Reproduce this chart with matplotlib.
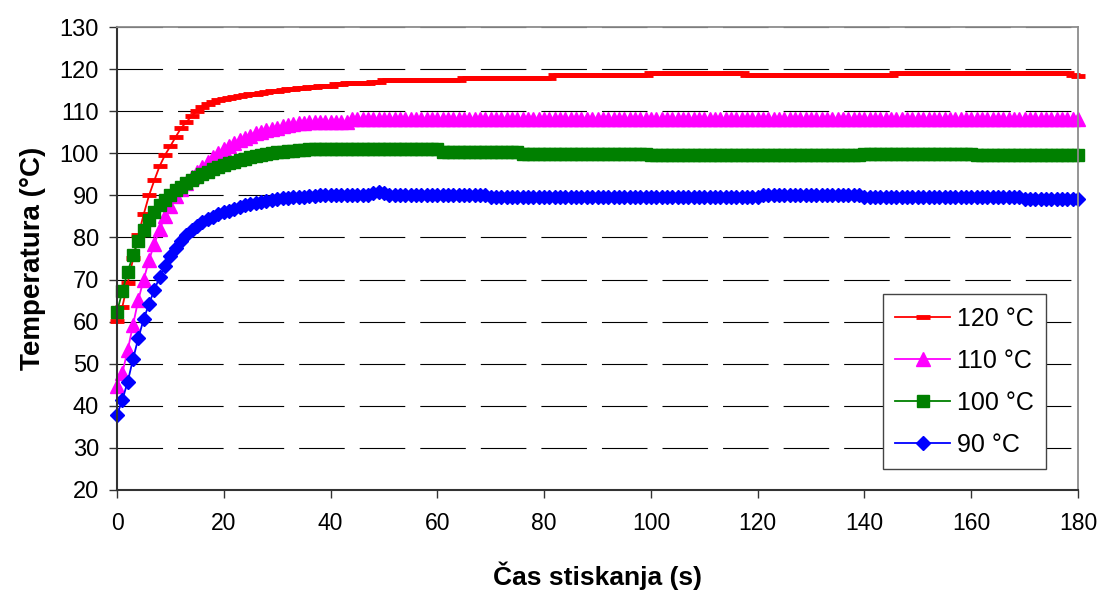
import matplotlib
matplotlib.use("Agg")
import matplotlib.pyplot as plt
import numpy as np

plt.rcParams['font.family'] = ['Liberation Sans', 'DejaVu Sans']

#%% data, one reading per second
cas = np.arange(0, 181)   # time axis (s)
x_ticks = [0, 20, 40, 60, 80, 100, 120, 140, 160, 180]
y_ticks = [20, 30, 40, 50, 60, 70, 80, 90, 100, 110, 120, 130]
labels = ['120 °C', '110 °C', '100 °C', '90 °C']

t120 = [
    60.2, 63.5, 69.2, 75.0, 80.5, 85.5, 90.0, 93.6, 97.0, 99.6,
    101.7, 103.9, 106.0, 107.4, 108.9, 110.0, 111.0, 111.8, 112.3, 112.7,
    113.0, 113.2, 113.4, 113.6, 113.8, 114.0, 114.1, 114.3, 114.5, 114.7,
    114.9, 115.0, 115.2, 115.3, 115.5, 115.6, 115.7, 115.8, 115.9, 116.0,
    116.0, 116.5, 116.5, 116.8, 116.8, 116.8, 116.8, 116.8, 117.0, 117.0,
    117.4, 117.4, 117.4, 117.4, 117.4, 117.4, 117.4, 117.4, 117.4, 117.4,
    117.4, 117.4, 117.4, 117.4, 117.4, 118.0, 118.0, 118.0, 118.0, 118.0,
    118.0, 118.0, 118.0, 118.0, 118.0, 118.0, 118.0, 118.0, 118.0, 118.0,
    118.0, 118.0, 118.5, 118.5, 118.5, 118.5, 118.5, 118.5, 118.5, 118.5,
    118.5, 118.5, 118.5, 118.5, 118.5, 118.5, 118.5, 118.5, 118.5, 118.5,
    119.0, 119.0, 119.0, 119.0, 119.0, 119.0, 119.0, 119.0, 119.0, 119.0,
    119.0, 119.0, 119.0, 119.0, 119.0, 119.0, 119.0, 119.0, 118.5, 118.5,
    118.5, 118.5, 118.5, 118.5, 118.5, 118.5, 118.5, 118.5, 118.5, 118.5,
    118.5, 118.5, 118.5, 118.5, 118.5, 118.5, 118.5, 118.5, 118.5, 118.5,
    118.5, 118.5, 118.5, 118.5, 118.5, 118.5, 119.0, 119.0, 119.0, 119.0,
    119.0, 119.0, 119.0, 119.0, 119.0, 119.0, 119.0, 119.0, 119.0, 119.0,
    119.0, 119.0, 119.0, 119.0, 119.0, 119.0, 119.0, 119.0, 119.0, 119.0,
    119.0, 119.0, 119.0, 119.0, 119.0, 119.0, 119.0, 119.0, 119.0, 118.5,
    118.4]

t110 = [
    44.8, 47.8, 53.2, 59.2, 65.2, 70.0, 74.6, 78.5, 82.0, 85.0,
    87.5, 89.8, 91.5, 93.0, 94.3, 95.5, 96.8, 97.9, 99.0, 100.0,
    101.0, 101.8, 102.5, 103.1, 103.7, 104.2, 104.7, 105.1, 105.5, 105.8,
    106.1, 106.4, 106.7, 106.9, 107.1, 107.3, 107.4, 107.5, 107.5, 107.5,
    107.5, 107.5, 107.5, 107.5, 108.1, 108.1, 108.1, 108.1, 108.1, 108.1,
    108.1, 108.1, 108.1, 108.1, 108.1, 108.1, 108.1, 108.1, 108.1, 108.1,
    108.1, 108.1, 108.1, 108.1, 108.1, 108.1, 108.1, 108.1, 108.1, 108.1,
    108.1, 108.1, 108.1, 108.1, 108.1, 108.1, 108.1, 108.1, 108.1, 108.1,
    108.1, 108.1, 108.1, 108.1, 108.1, 108.1, 108.1, 108.1, 108.1, 108.1,
    108.1, 108.1, 108.1, 108.1, 108.1, 108.1, 108.1, 108.1, 108.1, 108.1,
    108.1, 108.1, 108.1, 108.1, 108.1, 108.1, 108.1, 108.1, 108.1, 108.1,
    108.1, 108.1, 108.1, 108.1, 108.1, 108.1, 108.1, 108.1, 108.1, 108.1,
    108.1, 108.1, 108.1, 108.1, 108.1, 108.1, 108.1, 108.1, 108.1, 108.1,
    108.1, 108.1, 108.1, 108.1, 108.1, 108.1, 108.1, 108.1, 108.1, 108.1,
    108.1, 108.1, 108.1, 108.1, 108.1, 108.1, 108.1, 108.1, 108.1, 108.1,
    108.1, 108.1, 108.1, 108.1, 108.1, 108.1, 108.1, 108.1, 108.1, 108.1,
    108.1, 108.1, 108.1, 108.1, 108.1, 108.1, 108.1, 108.1, 108.1, 108.1,
    108.1, 108.1, 108.1, 108.1, 108.1, 108.1, 108.1, 108.1, 108.1, 108.1,
    108.1]

t100 = [
    62.3, 67.2, 71.8, 75.8, 79.2, 81.8, 84.1, 86.0, 87.6, 88.9,
    90.2, 91.2, 92.1, 92.9, 93.7, 94.4, 95.0, 95.6, 96.2, 96.7,
    97.2, 97.6, 98.0, 98.4, 98.7, 99.0, 99.3, 99.6, 99.8, 100.0,
    100.2, 100.4, 100.5, 100.6, 100.7, 100.8, 100.9, 101.0, 101.0, 101.0,
    101.0, 101.0, 101.0, 101.0, 101.0, 101.0, 101.0, 101.0, 101.0, 101.0,
    101.0, 101.0, 101.0, 101.0, 101.0, 101.0, 101.0, 101.0, 101.0, 101.0,
    101.0, 100.4, 100.4, 100.4, 100.4, 100.4, 100.4, 100.4, 100.4, 100.4,
    100.4, 100.4, 100.4, 100.4, 100.4, 100.4, 99.9, 99.9, 99.9, 99.9,
    99.9, 99.9, 99.9, 99.9, 99.9, 99.9, 99.9, 99.9, 99.9, 99.9,
    99.9, 99.9, 99.9, 99.9, 99.9, 99.9, 99.9, 99.9, 99.9, 99.9,
    99.5, 99.5, 99.5, 99.5, 99.5, 99.5, 99.5, 99.5, 99.5, 99.5,
    99.5, 99.5, 99.5, 99.5, 99.5, 99.5, 99.5, 99.5, 99.5, 99.5,
    99.5, 99.5, 99.5, 99.5, 99.5, 99.5, 99.5, 99.5, 99.5, 99.5,
    99.5, 99.5, 99.5, 99.5, 99.5, 99.5, 99.5, 99.5, 99.5, 99.5,
    99.9, 99.9, 99.9, 99.9, 99.9, 99.9, 99.9, 99.9, 99.9, 99.9,
    99.9, 99.9, 99.9, 99.9, 99.9, 99.9, 99.9, 99.9, 99.9, 99.9,
    99.9, 99.5, 99.5, 99.5, 99.5, 99.5, 99.5, 99.5, 99.5, 99.5,
    99.5, 99.5, 99.5, 99.5, 99.5, 99.5, 99.5, 99.5, 99.5, 99.5,
    99.5]

t90 = [
    37.8, 41.4, 45.7, 51.1, 56.1, 60.6, 64.2, 67.6, 70.6, 73.3,
    75.6, 77.6, 79.2, 80.6, 81.8, 82.8, 83.6, 84.3, 84.9, 85.5,
    86.0, 86.4, 86.8, 87.2, 87.6, 87.9, 88.2, 88.5, 88.7, 88.9,
    89.1, 89.3, 89.4, 89.5, 89.6, 89.7, 89.8, 89.9, 90.0, 90.0,
    90.2, 90.2, 90.2, 90.2, 90.2, 90.2, 90.2, 90.2, 90.6, 90.9,
    90.5, 90.2, 90.2, 90.2, 90.2, 90.2, 90.2, 90.2, 90.2, 90.2,
    90.2, 90.2, 90.2, 90.2, 90.2, 90.2, 90.2, 90.2, 90.2, 90.2,
    89.7, 89.7, 89.7, 89.7, 89.7, 89.7, 89.7, 89.7, 89.7, 89.7,
    89.7, 89.7, 89.7, 89.7, 89.7, 89.7, 89.7, 89.7, 89.7, 89.7,
    89.7, 89.7, 89.7, 89.7, 89.7, 89.7, 89.7, 89.7, 89.7, 89.7,
    89.7, 89.7, 89.7, 89.7, 89.7, 89.7, 89.7, 89.7, 89.7, 89.7,
    89.7, 89.7, 89.7, 89.7, 89.7, 89.7, 89.7, 89.7, 89.7, 89.7,
    89.7, 90.1, 90.1, 90.1, 90.1, 90.1, 90.1, 90.1, 90.1, 90.1,
    90.1, 90.1, 90.1, 90.1, 90.1, 90.1, 90.1, 90.1, 90.1, 90.1,
    89.6, 89.6, 89.6, 89.6, 89.6, 89.6, 89.6, 89.6, 89.6, 89.6,
    89.6, 89.6, 89.6, 89.6, 89.6, 89.6, 89.6, 89.6, 89.6, 89.6,
    89.6, 89.6, 89.6, 89.6, 89.6, 89.6, 89.6, 89.6, 89.6, 89.6,
    89.1, 89.1, 89.1, 89.1, 89.1, 89.1, 89.1, 89.1, 89.1, 89.1,
    89.1]

#%% plot
fig = plt.figure(figsize=(11.05, 5.96), dpi=100)
ax = fig.add_axes([117/1105, 1 - 490/596, 961/1105, 463/596])

ax.plot(cas, t120, color='#FF0000', lw=1.3, marker='_', ms=9.5, mew=3.5,
        clip_on=False, label=labels[0])
ax.plot(cas, t110, color='#FF00FF', lw=1.3, marker='^', ms=10.5,
        clip_on=False, label=labels[1])
ax.plot(cas, t100, color='#008000', lw=1.3, marker='s', ms=8.5,
        clip_on=False, label=labels[2])
ax.plot(cas, t90, color='#0000FF', lw=1.3, marker='D', ms=7,
        clip_on=False, label=labels[3])

ax.set_xlim(0, 180)
ax.set_ylim(20, 130)
ax.set_xticks(x_ticks)
ax.set_yticks(y_ticks)

ax.set_axisbelow(True)
ax.yaxis.grid(True, color='black', lw=0.8, linestyle=(0, (41, 13.5)))

for side in ['left', 'bottom']:
    ax.spines[side].set_color('#333333')
    ax.spines[side].set_linewidth(1.5)
for side in ['top', 'right']:
    ax.spines[side].set_color('#8c8c8c')
    ax.spines[side].set_linewidth(1.3)

ax.tick_params(axis='both', direction='out', length=6, width=1,
               color='#333333')
ax.tick_params(axis='x', pad=10, labelsize=16.5)
ax.tick_params(axis='y', pad=7, labelsize=17)

ax.set_xlabel('Čas stiskanja (s)', fontsize=19, fontweight='bold', labelpad=19)
ax.set_ylabel('Temperatura (°C)', fontsize=20, fontweight='bold', labelpad=10)

leg = ax.legend(loc='upper left', bbox_to_anchor=(0.797, 0.423),
                frameon=True, fancybox=False, edgecolor='#444444',
                framealpha=1, fontsize=18, handlelength=2.2,
                handletextpad=0.25, labelspacing=0.72, borderpad=0.5,
                borderaxespad=0)
leg.get_frame().set_linewidth(1)

fig.savefig('out.png', dpi=100)
